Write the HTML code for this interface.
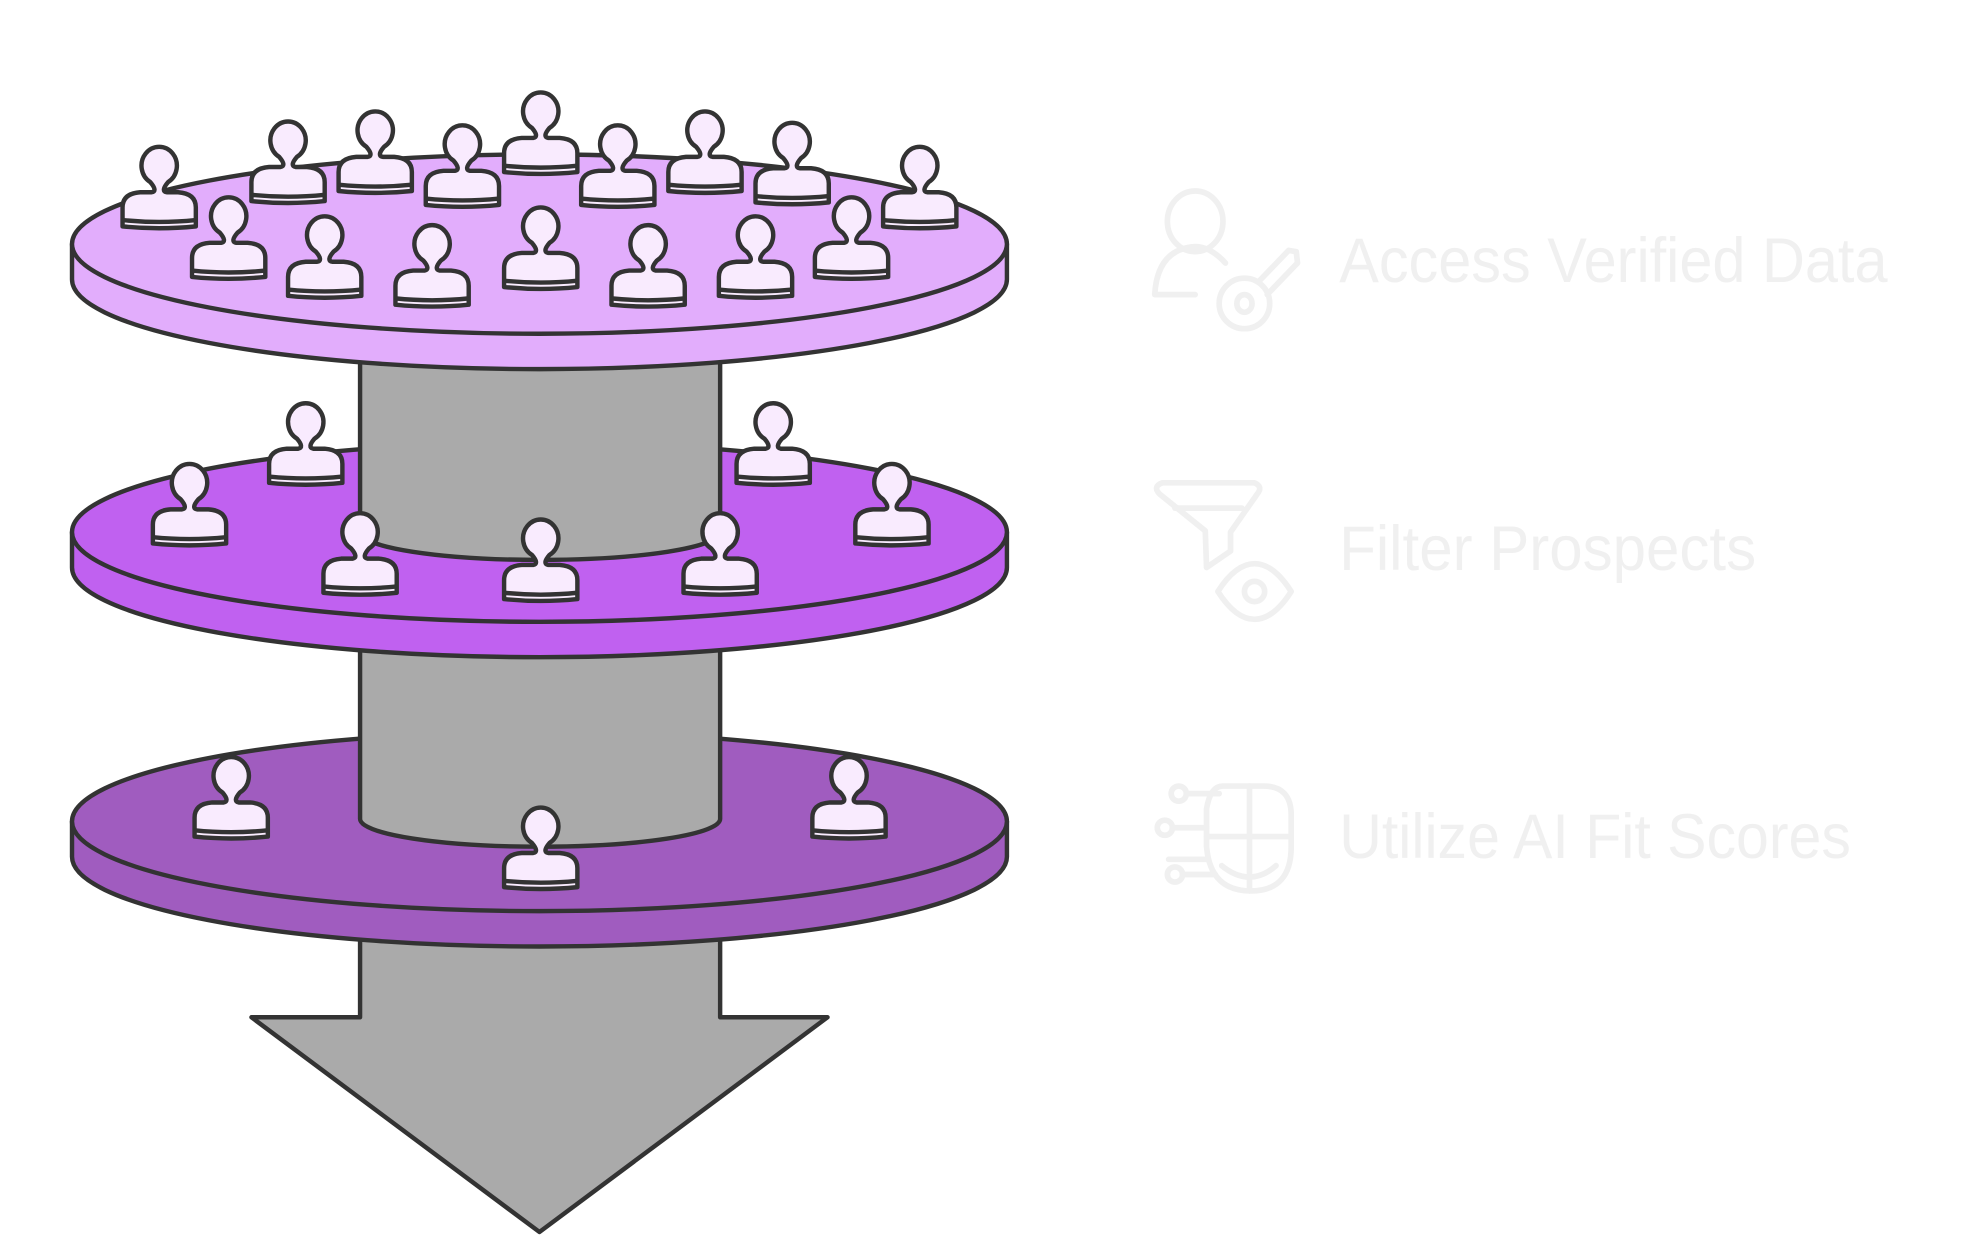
<!DOCTYPE html>
<html><head><meta charset="utf-8"><style>
html,body{margin:0;padding:0;background:#fff;}
svg{display:block;}
</style></head><body>
<svg width="1981" height="1255" viewBox="0 0 1568 993" xmlns="http://www.w3.org/2000/svg">
<defs>
<g id="p">
<path d="M -29 -1 V -16 Q -29 -27 -15 -28 H -6 Q -1 -29 -7 -36 A 14 15 0 1 1 7 -36 Q 1 -29 6 -28 H 15 Q 29 -27 29 -16 V -1 Q 0 2 -29 -1 Z" fill="#F9EBFE" stroke="#333" stroke-width="3.5" stroke-linejoin="round"/>
<path d="M -29 -6 Q 0 -3 29 -6" fill="none" stroke="#333" stroke-width="3.5"/>
</g>
</defs>
<g stroke="#333" stroke-width="3.5" stroke-linejoin="round">
<path d="M285,700 L285,805 L199,805 L427,975 L655,805 L570,805 L570,700 Z" fill="#AAAAAA"/>
<path d="M57,650 L57,678 A370,71 0 0 0 797,678 L797,650 Z" fill="#A05CBF"/>
<ellipse cx="427" cy="650" rx="370" ry="71" fill="#A05CBF"/>
<path d="M285,470 L285,648 A142.5,22 0 0 0 570,648 L570,470 Z" fill="#AAAAAA"/>
<path d="M57,421 L57,449 A370,71 0 0 0 797,449 L797,421 Z" fill="#C061F0"/>
<ellipse cx="427" cy="421" rx="370" ry="71" fill="#C061F0"/>
</g>
<use href="#p" x="242" y="383"/><use href="#p" x="612" y="383"/>
<g stroke="#333" stroke-width="3.5" stroke-linejoin="round">
<path d="M285,250 L285,421 A142.5,22 0 0 0 570,421 L570,250 Z" fill="#AAAAAA"/>
</g>
<use href="#p" x="150" y="431"/><use href="#p" x="706" y="431"/>
<use href="#p" x="285" y="470"/><use href="#p" x="570" y="470"/><use href="#p" x="428" y="475"/>
<g stroke="#333" stroke-width="3.5" stroke-linejoin="round">
<path d="M57,193 L57,221 A370,71 0 0 0 797,221 L797,193 Z" fill="#E2ADFC"/>
<ellipse cx="427" cy="193" rx="370" ry="71" fill="#E2ADFC"/>
</g>
<use href="#p" x="428" y="137"/>
<use href="#p" x="297" y="152"/><use href="#p" x="558" y="152"/>
<use href="#p" x="228" y="160"/><use href="#p" x="627" y="161"/>
<use href="#p" x="366" y="163"/><use href="#p" x="489" y="163"/>
<use href="#p" x="126" y="180"/><use href="#p" x="728" y="180"/>
<use href="#p" x="181" y="220"/><use href="#p" x="674" y="220"/>
<use href="#p" x="428" y="228"/>
<use href="#p" x="257" y="235"/><use href="#p" x="598" y="235"/>
<use href="#p" x="342" y="242"/><use href="#p" x="513" y="242"/>
<use href="#p" x="183" y="663"/><use href="#p" x="672" y="663"/><use href="#p" x="428" y="703"/>

<g fill="none" stroke="#F0F0F0" stroke-width="4.5" stroke-linecap="round" stroke-linejoin="round">
<ellipse cx="946" cy="175" rx="22" ry="24"/>
<path d="M970,208 Q958,195 946,195 Q916,197 914,233 L946,233"/>
<circle cx="985" cy="240" r="20"/>
<ellipse cx="985" cy="240" rx="6" ry="7"/>
<path d="M996,223 L1020,198 L1026,199 L1027,208 L1003,233"/>
<path d="M920,382 L993,382 Q1000,385 995,391 L974,421 L974,436 L955,449 L954,420 L918,391 Q912,385 920,382 Z"/>
<path d="M930,402 L983,402"/>
<path d="M964,468 Q978,446 993,446 Q1008,446 1022,468 Q1008,490 993,490 Q978,490 964,468 Z"/>
<circle cx="993" cy="468" r="8"/>
<path d="M968,622 L1000,622 Q1022,622 1022,645 L1022,670 Q1022,705 990,705 Q958,705 955,670 L955,640 Q958,622 968,622 Z"/>
<path d="M989,622 L989,705 M955,662 L1022,662"/>
<path d="M967,685 Q978,694 989,694 Q1000,694 1010,685"/>
<circle cx="933" cy="628" r="6"/><path d="M939,628 L965,628"/>
<circle cx="922" cy="655" r="6"/><path d="M928,655 L955,655"/>
<path d="M925,680 L955,680"/>
<circle cx="930" cy="692" r="6"/><path d="M936,692 L962,692"/>
</g>
<g font-family="'Liberation Sans', sans-serif" font-size="50" fill="#F0F0F0">
<text x="1060" y="223" textLength="434" lengthAdjust="spacingAndGlyphs">Access Verified Data</text>
<text x="1060" y="451" textLength="330" lengthAdjust="spacingAndGlyphs">Filter Prospects</text>
<text x="1060" y="679" textLength="405" lengthAdjust="spacingAndGlyphs">Utilize AI Fit Scores</text>
</g>
</svg>
</body></html>
